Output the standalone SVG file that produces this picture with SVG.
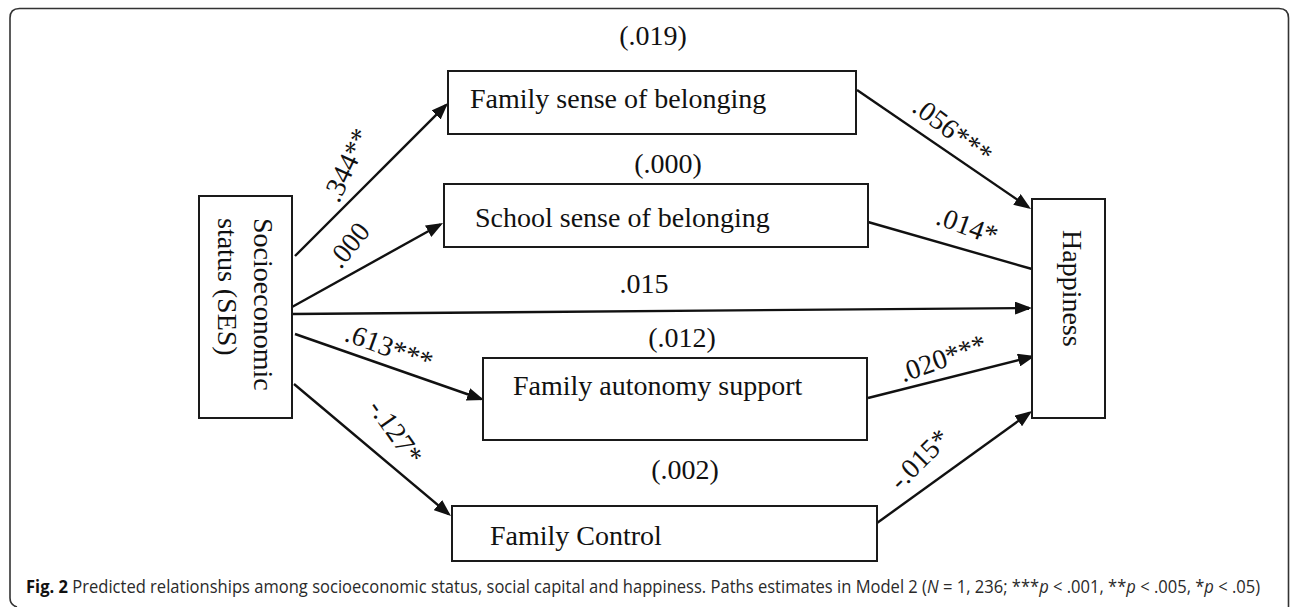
<svg xmlns="http://www.w3.org/2000/svg" width="1290" height="607" viewBox="0 0 1290 607">
<defs>
<style>
.box{fill:#fff;stroke:#1a1a1a;stroke-width:2}
.t{font-family:"Liberation Serif","Times New Roman",serif;font-size:28px;fill:#111}
.c{stroke:#111;stroke-width:2.4;fill:none}
.cap{font-family:"Open Sans","Noto Sans",sans-serif;font-size:18px;fill:#2a2a2a}
</style>
<marker id="ah" viewBox="0 0 17 13" refX="14" refY="6.5" markerWidth="17" markerHeight="13" markerUnits="userSpaceOnUse" orient="auto">
<path d="M0,0 L17,6.5 L0,13 z" fill="#111"/>
</marker>
</defs>
<rect width="1290" height="607" fill="#fff"/>
<path d="M17 607 Q10 605 10 598 L10 18 Q10 8.5 19.5 8.5 L1279 8.5 Q1288.5 8.5 1288.5 18 L1288.5 607" fill="none" stroke="#333" stroke-width="1.6"/>

<g id="connectors">
<line class="c" x1="295" y1="256" x2="445.9" y2="105.1" marker-end="url(#ah)"/>
<line class="c" x1="292" y1="307" x2="440.4" y2="224.5" marker-end="url(#ah)"/>
<line class="c" x1="292" y1="314" x2="1029" y2="308" marker-end="url(#ah)"/>
<line class="c" x1="295" y1="334" x2="481.2" y2="399" marker-end="url(#ah)"/>
<line class="c" x1="294" y1="384" x2="448.7" y2="514.1" marker-end="url(#ah)"/>
<line class="c" x1="857" y1="90" x2="1028.5" y2="207.3" marker-end="url(#ah)"/>
<line class="c" x1="868" y1="222" x2="1032" y2="269"/>
<line class="c" x1="868" y1="398" x2="1032.1" y2="356.7" marker-end="url(#ah)"/>
<line class="c" x1="877" y1="523" x2="1029.6" y2="412.8" marker-end="url(#ah)"/>
<text class="t" text-anchor="middle" transform="translate(355,169) rotate(-65)">.344**</text>
<text class="t" text-anchor="middle" transform="translate(356,251) rotate(-51)">.000</text>
<text class="t" text-anchor="middle" x="644" y="293">.015</text>
<text class="t" text-anchor="middle" transform="translate(386,356) rotate(20)">.613***</text>
<text class="t" text-anchor="middle" transform="translate(388,437) rotate(55)">-.127*</text>
<text class="t" text-anchor="middle" transform="translate(947,138) rotate(37)">.056***</text>
<text class="t" text-anchor="middle" transform="translate(964,234.5) rotate(20)">.014*</text>
<text class="t" text-anchor="middle" transform="translate(946,367) rotate(-20)">.020***</text>
<text class="t" text-anchor="middle" transform="translate(926,466) rotate(-45)">-.015*</text>
</g>

<g id="ses">
<rect class="box" x="199" y="196" width="93" height="222"/>
<text class="t" transform="translate(254,218) rotate(90)">Socioeconomic</text>
<text class="t" transform="translate(218,218) rotate(90)">status (SES)</text>
</g>
<g id="family-belonging">
<rect class="box" x="448" y="71" width="408" height="63"/>
<text class="t" x="470" y="108">Family sense of belonging</text>
<text class="t" text-anchor="middle" x="653" y="45">(.019)</text>
</g>
<g id="school-belonging">
<rect class="box" x="444" y="184" width="424" height="63"/>
<text class="t" x="475" y="227">School sense of belonging</text>
<text class="t" text-anchor="middle" x="668" y="173">(.000)</text>
</g>
<g id="family-autonomy">
<rect class="box" x="483" y="358" width="384" height="82"/>
<text class="t" x="513" y="395">Family autonomy support</text>
<text class="t" text-anchor="middle" x="682" y="347">(.012)</text>
</g>
<g id="family-control">
<rect class="box" x="452" y="506" width="425" height="55"/>
<text class="t" x="490" y="545">Family Control</text>
<text class="t" text-anchor="middle" x="685" y="479">(.002)</text>
</g>
<g id="happiness">
<rect class="box" x="1032" y="199" width="73" height="219"/>
<text class="t" transform="translate(1063,230) rotate(90)">Happiness</text>
</g>

<text class="cap" transform="translate(26,593) scale(0.92,1)"><tspan font-weight="bold" fill="#111">Fig. 2</tspan> Predicted relationships among socioeconomic status, social capital and happiness. Paths estimates in Model 2 (<tspan font-style="italic">N</tspan> = 1, 236; ***<tspan font-style="italic">p</tspan> &lt; .001, **<tspan font-style="italic">p</tspan> &lt; .005, *<tspan font-style="italic">p</tspan> &lt; .05)</text>
</svg>
